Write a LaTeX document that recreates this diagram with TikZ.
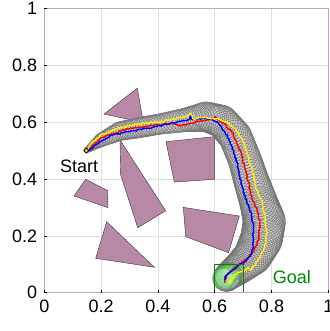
\documentclass[tikz,border=0pt]{standalone}
\usepackage{fontspec}
\setmainfont{Liberation Sans}
\usetikzlibrary{decorations.pathmorphing}
\definecolor{obst}{RGB}{183,137,167}
\definecolor{framec}{RGB}{200,160,200}
\definecolor{goalg}{RGB}{0,135,0}
\definecolor{trajyel}{RGB}{255,240,0}
\tikzset{
  ticklab/.style={inner sep=0pt, font=\fontsize{18}{20}\selectfont},
  obstacle/.style={fill=obst, draw=black!80, line width=0.4pt},
  tubeedge/.style={draw=black!52, line width=1.7pt},
  tubeinner/.style={fill=white!80!black},
  tubecirc/.style={draw=black!55, line width=0.42pt},
  goalcirc/.style={draw=green!45!gray, line width=0.35pt, fill=green!35, fill opacity=0.15},
  traj/.style={line width=1.45pt, line join=round, decorate, decoration={random steps, segment length=2pt, amplitude=0.8pt}},
}
\newcommand\mytubepts{0.148/0.50/0.006, 0.165/0.512/0.012, 0.20/0.537/0.022, 0.266/0.568/0.031, 0.337/0.581/0.034,
   0.407/0.593/0.034, 0.50/0.608/0.04, 0.57/0.619/0.05, 0.625/0.602/0.055, 0.672/0.55/0.056,
   0.705/0.47/0.056, 0.73/0.39/0.06, 0.757/0.31/0.065, 0.775/0.25/0.072, 0.765/0.19/0.072,
   0.735/0.13/0.065, 0.69/0.09/0.055, 0.65/0.06/0.048, 0.64/0.05/0.045}
\newcommand\mydrawtube[1]{%
\foreach \x/\y/\r [remember=\x as \px (initially 0.148), remember=\y as \py (initially 0.5), remember=\r as \pr (initially 0.006)] in \mytubepts {
  \foreach \t in {0,0.125,...,0.875}{
    \pgfmathsetmacro\cx{\px+(\x-\px)*\t}
    \pgfmathsetmacro\cy{\py+(\y-\py)*\t}
    \pgfmathsetmacro\cr{\pr+(\r-\pr)*\t}
    \path[#1] (\cx,\cy) circle[radius=\cr];
  }
}}
\begin{document}
\begin{tikzpicture}[x=284pt, y=284.4pt]
\useasboundingbox (-44.3pt,-38.3pt) rectangle (284.7pt,292.7pt);
% grid
\draw[black!12, line width=0.6pt] (0,0) grid[step=0.2] (1,1);
% obstacles
\filldraw[obstacle] (0.210,0.628) -- (0.3275,0.719) -- (0.3487,0.599) -- cycle;
\filldraw[obstacle] (0.2665,0.537) -- (0.269,0.414) -- (0.329,0.2286) -- (0.4275,0.288) -- cycle;
\filldraw[obstacle] (0.4285,0.531) -- (0.5986,0.5486) -- (0.5986,0.3987) -- (0.4577,0.389) -- cycle;
\filldraw[obstacle] (0.1457,0.3987) -- (0.1046,0.340) -- (0.2243,0.299) -- (0.2232,0.3587) -- cycle;
\filldraw[obstacle] (0.2197,0.2497) -- (0.181,0.121) -- (0.3873,0.0893) -- cycle;
\filldraw[obstacle] (0.4894,0.300) -- (0.6866,0.2697) -- (0.649,0.1407) -- (0.498,0.197) -- cycle;
% tube of circles: outer edge, interior, then each circle outline
\mydrawtube{tubeedge}
\mydrawtube{tubeinner}
\mydrawtube{tubecirc}
% circles that reach the goal
\foreach \t in {0,0.125,...,1}{
  \pgfmathsetmacro\cx{0.662+(0.630-0.662)*\t}
  \pgfmathsetmacro\cy{0.072+(0.048-0.072)*\t}
  \pgfmathsetmacro\cr{0.028+(0.038-0.028)*\t}
  \path[goalcirc] (\cx,\cy) circle[radius=\cr];
}
% trajectories
\draw[red, traj] plot coordinates {(0.148,0.5) (0.161,0.508) (0.196,0.543) (0.243,0.56) (0.302,0.578) (0.36,0.584) (0.419,0.592) (0.454,0.596) (0.478,0.586) (0.495,0.59) (0.525,0.596) (0.537,0.604) (0.572,0.607) (0.590,0.612) (0.601,0.619) (0.63,0.596) (0.66,0.566) (0.677,0.531) (0.695,0.484) (0.707,0.437) (0.718,0.39) (0.727,0.344) (0.736,0.32) (0.754,0.279) (0.760,0.232) (0.754,0.185) (0.736,0.144) (0.718,0.121) (0.695,0.109) (0.683,0.094) (0.665,0.085) (0.654,0.074) (0.642,0.062) (0.636,0.035)};
\draw[blue, traj] plot coordinates {(0.148,0.5) (0.161,0.502) (0.196,0.531) (0.243,0.555) (0.302,0.566) (0.36,0.578) (0.407,0.587) (0.466,0.599) (0.513,0.611) (0.516,0.622) (0.52,0.609) (0.537,0.611) (0.583,0.611) (0.613,0.596) (0.636,0.566) (0.654,0.531) (0.671,0.484) (0.683,0.437) (0.693,0.39) (0.703,0.344) (0.713,0.32) (0.73,0.279) (0.736,0.22) (0.736,0.162) (0.724,0.127) (0.707,0.109) (0.683,0.097) (0.665,0.08) (0.648,0.068) (0.636,0.056) (0.635,0.045)};
\draw[trajyel, traj] plot coordinates {(0.148,0.5) (0.161,0.519) (0.196,0.553) (0.243,0.572) (0.302,0.588) (0.36,0.596) (0.407,0.600) (0.454,0.611) (0.478,0.615) (0.507,0.622) (0.517,0.630) (0.522,0.612) (0.56,0.615) (0.607,0.613) (0.642,0.601) (0.671,0.578) (0.695,0.543) (0.713,0.496) (0.727,0.449) (0.742,0.39) (0.752,0.35) (0.765,0.326) (0.777,0.267) (0.783,0.22) (0.781,0.174) (0.765,0.138) (0.748,0.109) (0.73,0.08) (0.718,0.089) (0.701,0.074) (0.68,0.072) (0.66,0.048) (0.65,0.03)};
% start marker
\node[circle, draw=black, fill=trajyel, line width=0.9pt, inner sep=0pt, minimum size=4pt] (start) at (0.148,0.5) {};
\node[ticklab] (startlab) at (0.123,0.4455) {Start};
% goal
\draw[goalg, line width=0.9pt] (0.6,0) rectangle (0.7,0.1);
\node[ticklab, text=goalg] (goallab) at (0.872,0.0563) {Goal};
% frame
\draw[framec, line width=0.9pt] (0,0) rectangle (1,1);
% ticks and labels
\foreach \v/\lab [count=\i] in {0/0, 0.2/0.2, 0.4/0.4, 0.6/0.6, 0.8/0.8, 1/1}{
  \draw[black, line width=0.5pt] (0,\v) -- ++(2.5pt,0);
  \draw[black, line width=0.5pt] (\v,0) -- ++(0,2.5pt);
  \node[ticklab, anchor=east] (yl\i) at ([xshift=-7pt]0,\v) {\lab};
  \node[ticklab, anchor=north] (xl\i) at ([yshift=-7pt]\v,0) {\lab};
}
\end{tikzpicture}
\end{document}
